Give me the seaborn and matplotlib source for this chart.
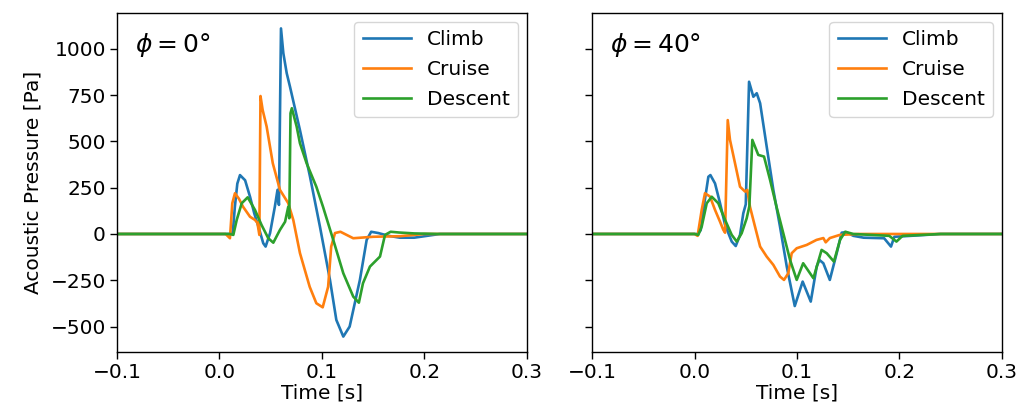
import numpy as np
import pandas as pd
import matplotlib
matplotlib.use("Agg")
import matplotlib.pyplot as plt
import seaborn as sns

series_names = ["Climb", "Cruise", "Descent"]
panel_titles = [r"$\phi = 0°$", r"$\phi = 40°$"]

# ---- phi = 0 deg ----
climb0_t = [-0.1, 0.010, 0.013, 0.015, 0.0174, 0.020, 0.025, 0.0298, 0.034, 0.038, 0.0427, 0.045, 0.0493,
            0.054, 0.0566, 0.058, 0.060, 0.0623, 0.0656, 0.0688, 0.0785, 0.0883, 0.098, 0.1078, 0.114,
            0.1208, 0.127, 0.137, 0.1436, 0.148, 0.155, 0.165, 0.176, 0.19, 0.20, 0.215, 0.3]
climb0_v = [0, 0, 10, 147, 272, 318, 290, 201, 110, 40, -50, -68, 4,
            147, 238, 157, 1110, 976, 868, 795, 561, 310, 40, -248, -464,
            -554, -500, -248, -32, 12, 5, -10, -20, -20, -12, 0, 0]

cruise0_t = [-0.1, 0.006, 0.0102, 0.0125, 0.0151, 0.019, 0.023, 0.0298, 0.0346, 0.037, 0.0389, 0.0400,
             0.0421, 0.046, 0.052, 0.059, 0.067, 0.072, 0.0785, 0.088, 0.0945, 0.1007, 0.106, 0.109,
             0.1127, 0.118, 0.1305, 0.15, 0.176, 0.19, 0.2, 0.3]
cruise0_v = [0, 0, -23, 166, 220, 190, 147, 93, 76, 60, -5, 745,
             670, 580, 382, 238, 167, 76, -103, -285, -374, -396, -285, -68,
             5, 12, -23, -15, -12, -5, 0, 0]

descent0_t = [-0.1, 0.010, 0.0135, 0.0168, 0.0217, 0.0275, 0.0346, 0.041, 0.0476, 0.0525, 0.059, 0.064,
              0.0671, 0.0681, 0.0693, 0.0706, 0.0753, 0.0785, 0.085, 0.0945, 0.101, 0.111, 0.1208, 0.1305,
              0.136, 0.140, 0.1468, 0.1566, 0.1615, 0.167, 0.175, 0.19, 0.215, 0.3]
descent0_v = [0, 0, -5, 76, 166, 198, 130, 49, -23, -47, 22, 66,
              147, 85, 652, 679, 580, 490, 382, 255, 147, -32, -212, -338,
              -371, -266, -176, -122, -5, 12, 8, 3, 0, 0]

# ---- phi = 40 deg ----
climb40_t = [-0.1, 0.003, 0.006, 0.0086, 0.0135, 0.0155, 0.020, 0.0249, 0.0298, 0.0363, 0.0402, 0.0444,
             0.0476, 0.050, 0.0532, 0.0574, 0.0607, 0.064, 0.0704, 0.0769, 0.0834, 0.090, 0.0978, 0.1055,
             0.1134, 0.1192, 0.1218, 0.1257, 0.132, 0.1387, 0.1436, 0.148, 0.155, 0.165, 0.185, 0.1917,
             0.195, 0.205, 0.24, 0.3]
climb40_v = [0, 0, 20, 130, 309, 318, 273, 166, 49, -41, -65, -5,
             112, 160, 822, 741, 760, 706, 472, 238, 40, -176, -389, -257,
             -365, -176, -140, -158, -248, -104, 7, 10, -10, -20, -23, -68,
             -15, -12, 0, 0]

cruise40_t = [-0.1, 0.0, 0.003, 0.007, 0.0102, 0.0151, 0.020, 0.0249, 0.0281, 0.0298, 0.0324, 0.0346,
              0.0395, 0.0444, 0.0493, 0.0515, 0.0541, 0.059, 0.064, 0.0704, 0.0769, 0.0834, 0.0873, 0.0915,
              0.0948, 0.0997, 0.1095, 0.119, 0.1257, 0.128, 0.132, 0.1417, 0.16, 0.3]
cruise40_v = [0, 0, -10, 130, 220, 202, 130, 66, 22, 7, 615, 508,
              382, 255, 229, 238, 147, 40, -68, -122, -167, -230, -248, -212,
              -104, -77, -59, -32, -22, -45, -22, -5, 0, 0]

descent40_t = [-0.1, 0.0, 0.0037, 0.007, 0.0119, 0.0168, 0.0232, 0.0298, 0.0363, 0.0412, 0.046, 0.0509,
               0.0535, 0.0564, 0.0622, 0.0678, 0.0737, 0.080, 0.0866, 0.0932, 0.0997, 0.106, 0.116, 0.124,
               0.129, 0.136, 0.142, 0.147, 0.155, 0.19, 0.197, 0.203, 0.24, 0.3]
descent40_v = [0, 0, -5, 40, 166, 201, 166, 76, -5, -41, 4, 85,
               150, 508, 427, 418, 292, 147, 4, -140, -248, -158, -239, -86,
               -104, -149, -32, 12, 0, -10, -41, -10, 0, 0]

panels = [
    [(climb0_t, climb0_v), (cruise0_t, cruise0_v), (descent0_t, descent0_v)],
    [(climb40_t, climb40_v), (cruise40_t, cruise40_v), (descent40_t, descent40_v)],
]

colors = ["#1f77b4", "#ff7f0e", "#2ca02c"]

plt.rcParams["font.family"] = ["DejaVu Sans"]
plt.rcParams["mathtext.fontset"] = "dejavusans"

FS = 14.5

fig = plt.figure(figsize=(10.30, 4.17), dpi=100)
ax1 = fig.add_axes([0.1136, 0.1559, 0.398, 0.8129])
ax2 = fig.add_axes([0.5748, 0.1559, 0.398, 0.8129], sharey=ax1)
axes = [ax1, ax2]

for ax, pdata, title in zip(axes, panels, panel_titles):
    frames = []
    for name, (t, v) in zip(series_names, pdata):
        frames.append(pd.DataFrame({"Time": t, "Pressure": v, "Condition": name}))
    df = pd.concat(frames, ignore_index=True)
    sns.lineplot(data=df, x="Time", y="Pressure", hue="Condition", palette=colors,
                 estimator=None, sort=False, linewidth=1.9, ax=ax)
    ax.set_xlim(-0.1, 0.3)
    ax.set_xticks([-0.1, 0.0, 0.1, 0.2, 0.3])
    ax.set_xlabel("Time [s]", fontsize=FS, labelpad=1)
    ax.tick_params(labelsize=FS, length=5, width=1.0, pad=3)
    for s in ax.spines.values():
        s.set_linewidth(1.0)
    ax.text(0.045, 0.905, title, transform=ax.transAxes, fontsize=18, va="center", ha="left")
    ax.legend(loc="upper right", fontsize=FS, title=None, handlelength=2.4,
              borderaxespad=0.45, labelspacing=0.55)

ax1.set_yticks([-500, -250, 0, 250, 500, 750, 1000])
ax1.set_ylabel("Acoustic Pressure [Pa]", fontsize=FS, labelpad=6)
ax2.set_ylabel("")
plt.setp(ax2.get_yticklabels(), visible=False)

fig.savefig("out.png", dpi=100)
